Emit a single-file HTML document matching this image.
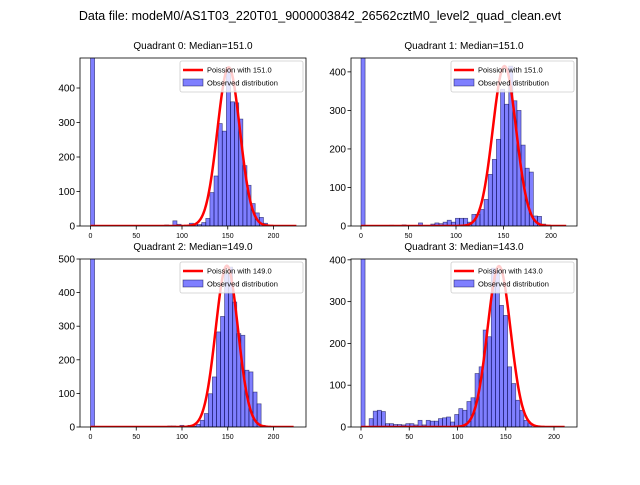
<!DOCTYPE html>
<html><head><meta charset="utf-8"><style>body{margin:0;background:#fff}svg{font-family:"Liberation Sans","DejaVu Sans",sans-serif}</style></head>
<body>
<svg id="fig" width="640" height="480" xmlns="http://www.w3.org/2000/svg">
<rect width="640" height="480" fill="#fff"/>
<text x="320" y="20" text-anchor="middle" font-size="12.5">Data file: modeM0/AS1T03_220T01_9000003842_26562cztM0_level2_quad_clean.evt</text>
</svg>
<script>
// Data arrays
const medians = [151.0, 151.0, 149.0, 143.0];
const binWidths = [4.5, 4.32, 4.44, 4.22];
const xMax = [225, 216, 222, 211];
const yMax = [487, 436, 500, 402];
const yTicks0 = [0,100,200,300,400];
const yTicks2 = [0,100,200,300,400,500];
const xTicks = [0,50,100,150,200];
const peaks = [460, 415, 480, 385];
const counts0 = [2000,0,0,0,0,0,0,0,0,0,0,0,0,0,0,0,0,0,3,0,15,5,2,2,8,6,4,10,22,97,145,297,275,460,360,357,310,175,118,65,38,25,8,2,0,0,0,0,0,0];
const counts1 = [2000,0,0,0,0,0,0,2,0,0,3,0,0,0,8,0,0,5,8,6,10,15,10,20,20,20,10,30,30,43,69,134,173,225,355,316,415,325,300,210,150,140,26,25,5,2,0,0,0,0];
const counts2 = [2000,0,0,0,0,0,0,0,0,0,0,0,0,0,0,0,0,0,0,3,3,0,5,2,5,2,8,20,40,99,149,283,329,456,476,372,278,273,169,164,104,69,5,0,0,0,0,0,0,0];
const counts3 = [2000,0,20,38,40,37,8,8,6,6,5,8,8,5,16,5,16,14,14,20,22,24,12,30,44,40,61,70,128,144,232,216,380,375,291,267,144,104,64,40,16,8,0,0,0,0,0,0,0,0];
const allCounts = [counts0, counts1, counts2, counts3];

const boxes = [{x:80,y:58,w:226,h:168},{x:351,y:58,w:226,h:168},{x:80,y:259,w:226,h:168},{x:351,y:259,w:226,h:168}];
const xPx = [[90.5,0.915],[361,0.95],[90.5,0.915],[361,0.965]];
const svg = document.getElementById('fig');
const NS = 'http://www.w3.org/2000/svg';
function mk(tag, attrs, parent){const e=document.createElementNS(NS,tag);for(const k in attrs)e.setAttribute(k,attrs[k]);(parent||svg).appendChild(e);return e;}

for (let q=0;q<4;q++){
  const b=boxes[q];
  const sx = v => xPx[q][0] + v*xPx[q][1];
  const sy = v => b.y + b.h - v/yMax[q]*b.h;
  const g = mk('g',{});
  
  
  const cp = mk('clipPath',{id:'c'+q},g);
  mk('rect',{x:b.x,y:b.y,width:b.w,height:b.h},cp);
  const bars = mk('g',{'clip-path':'url(#c'+q+')'},g);
  const w = binWidths[q];
  allCounts[q].forEach((c,k)=>{
    if(c<=0) return;
    const r = mk('rect',{x:sx(k*w),y:sy(c),width:w*xPx[q][1],height:sy(0)-sy(c),fill:'rgba(0,0,255,0.5)',stroke:'rgba(0,0,60,0.6)','stroke-width':0.7},bars);
    
    
  });
  const mu = medians[q];
  let d='';
  for(let x=0;x<=xMax[q];x+=0.5){
    const v = peaks[q]*Math.exp(-(x-mu)*(x-mu)/(2*mu));
    d += (x===0?'M':'L')+sx(x).toFixed(2)+','+sy(v).toFixed(2);
  }
  const curve = mk('path',{d:d,fill:'none',stroke:'#ff0000','stroke-width':2.5},bars);
  
  
  mk('rect',{x:b.x,y:b.y,width:b.w,height:b.h,fill:'none',stroke:'#000','stroke-width':0.8},g);
  const yt = q===2 ? yTicks2 : yTicks0;
  yt.forEach(t=>{
    mk('line',{x1:b.x-3.5,x2:b.x,y1:sy(t),y2:sy(t),stroke:'#000','stroke-width':0.8},g);
    const tx = mk('text',{x:b.x-5,y:sy(t)+3.5,'text-anchor':'end','font-size':10},g);
    tx.textContent=t;
    
    
  });
  xTicks.forEach(t=>{
    mk('line',{x1:sx(t),x2:sx(t),y1:b.y+b.h,y2:b.y+b.h+3.5,stroke:'#000','stroke-width':0.8},g);
    const tx = mk('text',{x:sx(t),y:b.y+b.h+12,'text-anchor':'middle','font-size':7},g);
    tx.textContent=t;
    
    
  });
  const title = mk('text',{x:b.x+b.w/2,y:b.y-9,'text-anchor':'middle','font-size':10},g);
  title.textContent='Quadrant '+q+': Median='+mu.toFixed(1);
  
  
  const lg = mk('g',{},g);
  
  
  const lx=b.x+b.w-126, ly=b.y+3;
  mk('rect',{x:lx,y:ly,width:123,height:31,fill:'rgba(255,255,255,0.8)',stroke:'#ccc','stroke-width':0.8,rx:2},lg);
  mk('line',{x1:lx+3,x2:lx+23,y1:ly+9,y2:ly+9,stroke:'#ff0000','stroke-width':2.5},lg);
  const t1=mk('text',{x:lx+27,y:ly+11.5,'font-size':7.5},lg); t1.textContent='Poission with '+mu.toFixed(1);
  
  
  mk('rect',{x:lx+3,y:ly+18,width:20,height:7,fill:'rgba(0,0,255,0.5)',stroke:'rgba(0,0,60,0.6)','stroke-width':0.7},lg);
  const t2=mk('text',{x:lx+27,y:ly+24.5,'font-size':7.5},lg); t2.textContent='Observed distribution';
  
  
}
</script>
</body></html>
